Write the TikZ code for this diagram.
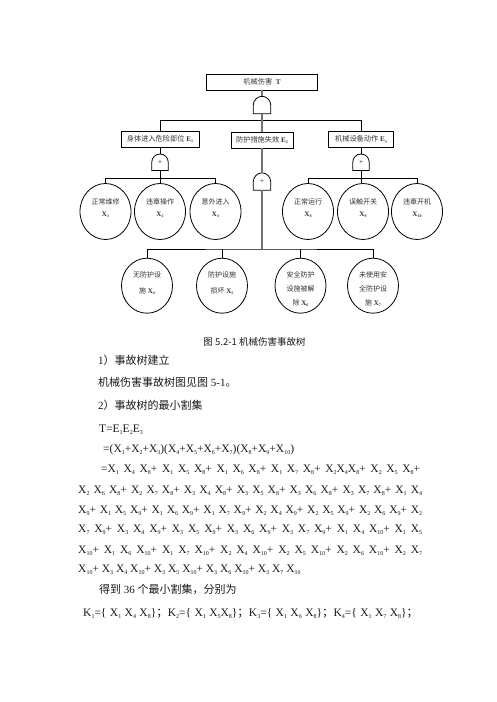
\documentclass[tikz,border=0pt]{standalone}
\usepackage{fontspec}
\usepackage{graphicx}
\setmainfont{Liberation Serif}
\newfontfamily\cjk{Noto Sans CJK SC}
\usetikzlibrary{shapes.geometric,calc}
\newcommand\sbs[1]{\raisebox{-0.4ex}{\fontsize{6}{6}\selectfont #1}}
\newcommand\xsub[1]{X\sbs{#1}}
\newcommand\bsb[1]{\raisebox{-0.4ex}{\fontsize{4}{4}\selectfont\bfseries #1}}
\newcommand\bxs[1]{\textbf{X}\bsb{#1}}
\newcommand\bes[1]{\textbf{E}\bsb{#1}}
\newcommand\gateshape[1]{%
  \draw[gateln] (#1.south west) -- (#1.west)
    .. controls ([yshift=4.6pt]#1.west) and ([xshift=-4.6pt]#1.north) .. (#1.north)
    .. controls ([xshift=4.6pt]#1.north) and ([yshift=4.6pt]#1.east) .. (#1.east)
    -- (#1.south east) -- cycle;}
\begin{document}
\begin{tikzpicture}[x=1pt,y=-1pt,
  box/.style={draw, line width=0.8pt, minimum height=16pt, inner sep=0pt,
    font=\fontsize{7.2}{8}\selectfont, text=black!80},
  evt/.style={draw, ellipse, line width=0.8pt, minimum width=51pt,
    minimum height=56pt, inner sep=0pt},
  evtxt/.style={align=center, inner sep=0pt, text=black!80,
    font=\fontsize{7}{11.5}\selectfont},
  evtxtb/.style={align=center, inner sep=0pt, text=black!80,
    font=\fontsize{7}{14}\selectfont},
  gatenode/.style={minimum width=17pt, minimum height=17pt, inner sep=0pt,
    font=\fontsize{7}{7}\selectfont},
  gateln/.style={line width=0.8pt, black},
  conn/.style={line width=0.8pt, black},
  trunk/.style={line width=1.4pt, black!55},
  body/.style={inner sep=0pt, anchor=base west, text=black!90,
    font=\fontsize{11}{13}\selectfont},
  frm/.style={inner sep=0pt, anchor=base west, text=black!90,
    font=\fontsize{11.5}{13}\selectfont}
]
\useasboundingbox (0,0) rectangle (496,702);

% top event
\node[box, minimum width=111pt] (T) at (262,82) {{\cjk 机械伤害}\ \ \textbf{T}};
\node[gatenode] (gT) at (262,105) {};
\gateshape{gT}

% intermediate events
\node[box, minimum width=78pt] (E1) at (160,139) {{\cjk 身体进入危险部位} \bes{1}};
\node[box, minimum width=62pt] (E2) at (262,140) {{\cjk 防护措施失效} \bes{2}};
\node[box, minimum width=65pt] (E3) at (361,139.5) {{\cjk 机械设备动作} \bes{3}};

\node[gatenode, minimum width=16pt, minimum height=16pt] (g1) at (160,162.2) {+};
\gateshape{g1}
\node[gatenode, minimum width=16pt, minimum height=16pt] (g3) at (361,162.2) {+};
\gateshape{g3}
\node[gatenode] (g2) at (262,181.5) {+};
\gateshape{g2}

% basic events, upper row
\node[evt] (X1) at (105.5,211.5) {};
\node[evt] (X2) at (160,211.5) {};
\node[evt] (X3) at (215.5,211.5) {};
\node[evt] (X8) at (308,211.5) {};
\node[evt] (X9) at (363,211.5) {};
\node[evt] (X10) at (417,211.5) {};
\node[evtxt] (X1t) at (105.5,208) {{\cjk 正常维修}\\\bxs{1}};
\node[evtxt] (X2t) at (160,208) {{\cjk 违章操作}\\\bxs{2}};
\node[evtxt] (X3t) at (215.5,208) {{\cjk 意外进入}\\\bxs{3}};
\node[evtxt] (X8t) at (308,208) {{\cjk 正常运行}\\\bxs{8}};
\node[evtxt] (X9t) at (363,208) {{\cjk 误触开关}\\\bxs{9}};
\node[evtxt] (X10t) at (417,208) {{\cjk 违章开机}\\\bxs{10}};

% basic events, lower row
\node[evt, minimum height=55pt] (X4) at (147,285.7) {};
\node[evt, minimum height=55pt] (X5) at (222,285.7) {};
\node[evt, minimum height=55pt] (X6) at (300.5,285.7) {};
\node[evt, minimum height=55pt] (X7) at (373,285.7) {};
\node[evtxtb, font=\fontsize{7}{15.5}\selectfont] (X4t) at (147,283) {{\cjk 无防护设}\\{\cjk 施} \bxs{4}};
\node[evtxtb, font=\fontsize{7}{15.5}\selectfont] (X5t) at (222,283) {{\cjk 防护设施}\\{\cjk 损坏} \bxs{5}};
\node[evtxtb] (X6t) at (300.5,289) {{\cjk 安全防护}\\{\cjk 设施被解}\\{\cjk 除} \bxs{6}};
\node[evtxtb] (X7t) at (373,289) {{\cjk 未使用安}\\{\cjk 全防护设}\\{\cjk 施} \bxs{7}};

% connectors
\coordinate (bus0) at (262,120.7);
\coordinate (bus1) at (160,178.7);
\coordinate (bus2) at (361,178.7);
\coordinate (bus3) at (262,249);
\draw[conn] (E1.north) |- (bus0) -| (E3.north);
\draw[trunk] (T.south) -- (gT.north);
\draw[trunk] (gT.south) -- (E2.north);
\draw[trunk] (E2.south) -- (g2.north);
\draw[trunk] (g2.south) -- (bus3);
\draw[conn] (E1.south) -- (g1.north);
\draw[conn] (g1.south) -- (X2.north);
\draw[conn] (X1.north) |- (bus1) -| (X3.north);
\draw[conn] (E3.south) -- (g3.north);
\draw[conn] (g3.south) -- (g3.south |- X9.north);
\draw[conn] (X8.north) |- (bus2) -| (X10.north);
\draw[conn] (X4.north) |- (bus3) -| (X7.north);
\draw[conn] (X5.north) -- (X5.north |- bus3);
\draw[conn] (X6.north) -- (X6.north |- bus3);

% caption and text
\node[inner sep=0pt, anchor=base, text=black!90, font=\fontsize{9.5}{11}\selectfont\cjk] (cap) at (254.5,345.5) {图 5.2-1 机械伤害事故树};
\node[body] (l1) at (98,364) {1{\cjk ）事故树建立}};
\node[body] (l2) at (98,386.5) {{\cjk 机械伤害事故树图见图} 5-1{\cjk 。}};
\node[body] (l3) at (98,409) {2{\cjk ）事故树的最小割集}};
\node[frm] (f1) at (99,432) {T=E\sbs{1}E\sbs{2}E\sbs{3}};
\node[frm] (f2) at (103,452) {=(\xsub{1}+\xsub{2}+\xsub{3})(\xsub{4}+\xsub{5}+\xsub{6}+\xsub{7})(\xsub{8}+\xsub{9}+\xsub{10})};
\node[frm] (f3) at (101,472) {\makebox[319pt][s]{=\xsub{1} \xsub{4} \xsub{8}+ \xsub{1} \xsub{5} \xsub{8}+ \xsub{1} \xsub{6} \xsub{8}+ \xsub{1} \xsub{7} \xsub{8}+ \xsub{2}\xsub{4}\xsub{8}+ \xsub{2} \xsub{5} \xsub{8}+}};
\node[frm] (f4) at (78,493) {\makebox[344pt][s]{\xsub{2} \xsub{6} \xsub{8}+ \xsub{2} \xsub{7} \xsub{8}+ \xsub{3} \xsub{4} \xsub{8}+ \xsub{3} \xsub{5} \xsub{8}+ \xsub{3} \xsub{6} \xsub{8}+ \xsub{3} \xsub{7} \xsub{8}+ \xsub{1} \xsub{4}}};
\node[frm] (f5) at (78,513) {\makebox[344pt][s]{\xsub{9}+ \xsub{1} \xsub{5} \xsub{9}+ \xsub{1} \xsub{6} \xsub{9}+ \xsub{1} \xsub{7} \xsub{9}+ \xsub{2} \xsub{4} \xsub{9}+ \xsub{2} \xsub{5} \xsub{9}+ \xsub{2} \xsub{6} \xsub{9}+ \xsub{2}}};
\node[frm] (f6) at (78,532.5) {\makebox[344pt][s]{\xsub{7} \xsub{9}+ \xsub{3} \xsub{4} \xsub{9}+ \xsub{3} \xsub{5} \xsub{9}+ \xsub{3} \xsub{6} \xsub{9}+ \xsub{3} \xsub{7} \xsub{9}+ \xsub{1} \xsub{4} \xsub{10}+ \xsub{1} \xsub{5}}};
\node[frm] (f7) at (78,553) {\makebox[344pt][s]{\xsub{10}+ \xsub{1} \xsub{6} \xsub{10}+ \xsub{1} \xsub{7} \xsub{10}+ \xsub{2} \xsub{4} \xsub{10}+ \xsub{2} \xsub{5} \xsub{10}+ \xsub{2} \xsub{6} \xsub{10}+ \xsub{2} \xsub{7}}};
\node[frm] (f8) at (78,572.5) {\xsub{10}+ \xsub{3} \xsub{4} \xsub{10}+ \xsub{3} \xsub{5} \xsub{10}+ \xsub{3} \xsub{6} \xsub{10}+ \xsub{3} \xsub{7} \xsub{10}};
\node[body] (l4) at (99,593) {{\cjk 得到} 36 {\cjk 个最小割集，分别为}};
\node[frm] (f9) at (83,616) {\makebox[335pt][s]{K\sbs{1}=\{ \xsub{1} \xsub{4} \xsub{8}\}{\cjk ；}K\sbs{2}=\{ \xsub{1} \xsub{5}\xsub{8}\}{\cjk ；}K\sbs{3}=\{ \xsub{1} \xsub{6} \xsub{8}\}{\cjk ；}K\sbs{4}=\{ \xsub{1} \xsub{7} \xsub{8}\}{\cjk ；}}};
\end{tikzpicture}
\end{document}
